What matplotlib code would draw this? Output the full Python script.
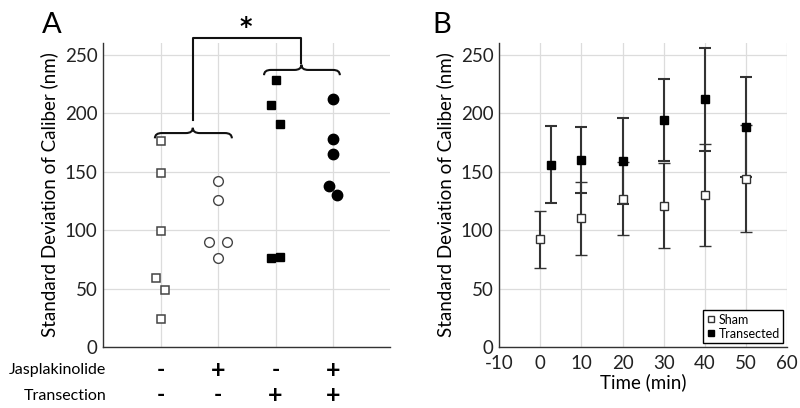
import matplotlib
matplotlib.use("Agg")
import matplotlib.pyplot as plt
import matplotlib.transforms as mtransforms
from matplotlib.path import Path
from matplotlib.patches import PathPatch

plt.rcParams['font.family'] = ['Lato', 'DejaVu Sans']
plt.rcParams['axes.unicode_minus'] = False

# ---- panel A data (group position, jittered x, value)
sham_x = [1.0, 1.0, 1.0, 0.92, 1.07, 1.0]
sham_y = [176, 149, 99, 59, 49, 24]
jasp_x = [2.0, 2.0, 1.85, 2.15, 2.0]
jasp_y = [142, 126, 90, 90, 76]
trans_x = [3.0, 2.93, 3.07, 2.93, 3.07]
trans_y = [228, 207, 191, 76, 77]
both_x = [4.0, 4.0, 4.0, 3.93, 4.07]
both_y = [212, 178, 165, 138, 130]

groups = [1, 2, 3, 4]
jasp_signs = ['-', '+', '-', '+']
transection_signs = ['-', '-', '+', '+']

# ---- panel B data
time_sham = [0, 10, 20, 30, 40, 50]
sham_mean = [92, 110, 127, 121, 130, 144]
sham_err = [24.5, 31, 31.5, 36.5, 43.5, 46]
time_trans = [2.5, 10, 20, 30, 40, 50]
trans_mean = [156, 160, 159, 194, 212, 188]
trans_err = [33, 28, 37, 35, 44, 43]

grid_col = '#dcdcdc'
spine_col = '#333333'


def style(ax):
    ax.grid(True, color=grid_col, linewidth=0.9)
    ax.set_axisbelow(True)
    for s in ['top', 'right']:
        ax.spines[s].set_visible(False)
    for s in ['left', 'bottom']:
        ax.spines[s].set_color(spine_col)
        ax.spines[s].set_linewidth(1.0)
    ax.tick_params(length=0, labelsize=13.5, pad=4, colors='#222222')
    ax.set_ylim(0, 260)
    ax.set_yticks([0, 50, 100, 150, 200, 250])


def brace(ax, x0, x1, xm, y, h, w):
    verts = [(x0, y - h), (x0, y), (x0 + w, y), (xm - w, y), (xm, y), (xm, y + h),
             (xm, y), (xm + w, y), (x1 - w, y), (x1, y), (x1, y - h)]
    codes = [Path.MOVETO, Path.CURVE3, Path.CURVE3, Path.LINETO, Path.CURVE3, Path.CURVE3,
             Path.CURVE3, Path.CURVE3, Path.LINETO, Path.CURVE3, Path.CURVE3]
    ax.add_patch(PathPatch(Path(verts, codes), fill=False, lw=1.5, color='#111111', clip_on=False))


fig = plt.figure(figsize=(8, 4.08), dpi=100)
axA = fig.add_axes([0.129, 0.1495, 0.359, 0.745])
axB = fig.add_axes([0.624, 0.1495, 0.36, 0.745])

# ---- panel A
style(axA)
axA.set_xlim(0, 5)
axA.set_xticks(groups)
axA.set_xticklabels([])
axA.plot(sham_x, sham_y, 's', ms=5.5, mfc='white', mec='#444444', mew=1.1, ls='none')
axA.plot(jasp_x, jasp_y, 'o', ms=7, mfc='white', mec='#444444', mew=1.0, ls='none')
axA.plot(trans_x, trans_y, 's', ms=6, mfc='black', mec='black', ls='none')
axA.plot(both_x, both_y, 'o', ms=7.5, mfc='black', mec='black', ls='none')
axA.set_ylabel('Standard Deviation of Caliber (nm)', fontsize=13.5, labelpad=5)

brace(axA, 0.9, 2.24, 1.56, 183, 4.5, 0.12)
brace(axA, 2.8, 4.12, 3.45, 237, 4.5, 0.12)
axA.plot([1.56, 1.56, 3.45, 3.45], [194, 264, 264, 243], color='#111111', lw=1.5, clip_on=False)
axA.text(2.48, 274, '*', ha='center', va='center', fontsize=17, family='DejaVu Sans',
         fontweight='bold', clip_on=False)

tr = mtransforms.blended_transform_factory(axA.transData, fig.transFigure)
for g, js, ts in zip(groups, jasp_signs, transection_signs):
    axA.text(g, 0.093, js, transform=tr, ha='center', va='center', fontsize=18 if js == '+' else 16,
             fontweight='bold')
    axA.text(g, 0.030, ts, transform=tr, ha='center', va='center', fontsize=18 if ts == '+' else 16,
             fontweight='bold')
fig.text(0.133, 0.093, 'Jasplakinolide', ha='right', va='center', fontsize=11.5)
fig.text(0.133, 0.030, 'Transection', ha='right', va='center', fontsize=11.5)

# ---- panel B
style(axB)
axB.set_xlim(-10, 60)
axB.set_xticks(range(-10, 61, 10))
axB.tick_params(axis='x', pad=6)
axB.errorbar(time_sham, sham_mean, yerr=sham_err, fmt='s', ms=6, mfc='white', mec='#333333',
             mew=1.0, ecolor='#333333', elinewidth=1.5, capsize=4, capthick=1.5, label='Sham')
axB.errorbar(time_trans, trans_mean, yerr=trans_err, fmt='s', ms=6, mfc='black', mec='black',
             ecolor='#333333', elinewidth=1.5, capsize=4, capthick=1.5, label='Transected')
axB.set_ylabel('Standard Deviation of Caliber (nm)', fontsize=13.5, labelpad=5)
axB.set_xlabel('Time (min)', fontsize=13.5, labelpad=1)
handles, labels = axB.get_legend_handles_labels()
handles = [h[0] for h in handles]
leg = axB.legend(handles, labels, loc='lower right', fontsize=9, fancybox=False, framealpha=1,
                 edgecolor='black', handlelength=0.6, handletextpad=0.3, borderpad=0.3,
                 labelspacing=0.15, markerscale=0.8, borderaxespad=0.3)
leg.get_frame().set_linewidth(1.0)

fig.text(0.052, 0.97, 'A', fontsize=21, ha='left', va='top')
fig.text(0.541, 0.97, 'B', fontsize=21, ha='left', va='top')

fig.savefig('out.png', dpi=100)
